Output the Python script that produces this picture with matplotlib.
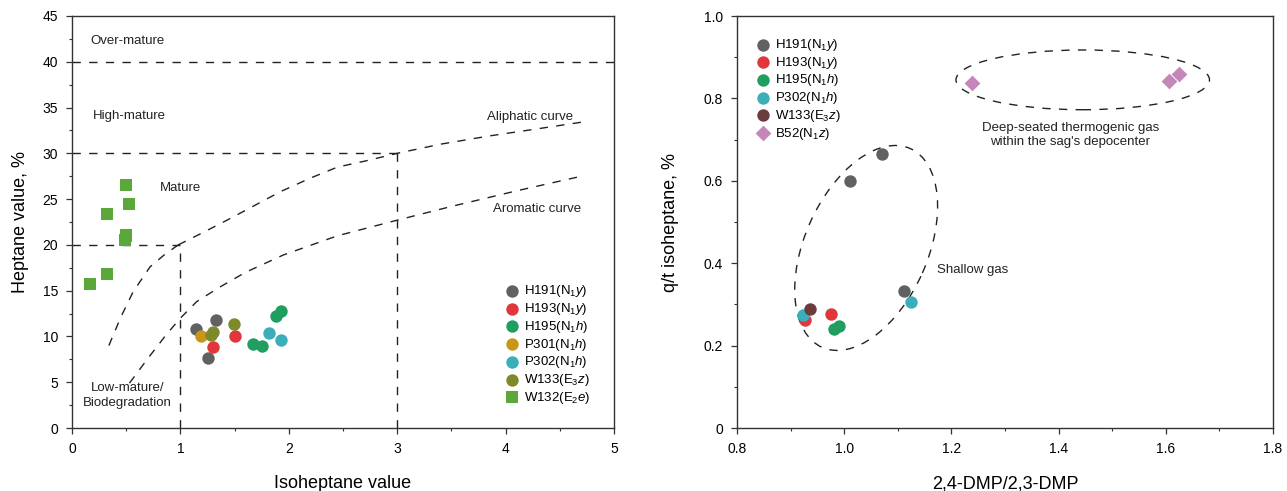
import matplotlib
matplotlib.use("Agg")
import matplotlib.pyplot as plt
from matplotlib.patches import Ellipse
from matplotlib.transforms import Affine2D
from matplotlib.ticker import MultipleLocator

plt.rcParams["font.family"] = ["Liberation Sans", "DejaVu Sans"]
plt.rcParams["mathtext.fontset"] = "custom"
plt.rcParams["mathtext.rm"] = "Liberation Sans"
plt.rcParams["mathtext.it"] = "Liberation Sans:italic"

# ---- left panel: isoheptane vs heptane ----
h191_x = [1.14, 1.33, 1.25]
h191_y = [10.8, 11.8, 7.7]
h193_x = [1.30, 1.50]
h193_y = [8.9, 10.0]
h195_x = [1.67, 1.75, 1.88, 1.93]
h195_y = [9.2, 8.95, 12.2, 12.75]
p301_x = [1.19]
p301_y = [10.0]
p302_x = [1.82, 1.93]
p302_y = [10.35, 9.6]
w133_x = [1.28, 1.30, 1.49]
w133_y = [10.2, 10.5, 11.4]
w132_x = [0.17, 0.32, 0.32, 0.50, 0.53, 0.49, 0.50, 0.50]
w132_y = [15.7, 16.8, 23.4, 26.5, 24.5, 20.5, 21.0, 21.1]

aliph_x = [0.98, 1.2, 1.43, 1.7, 1.92, 2.2, 2.45, 2.72, 3.0, 3.4, 3.85, 4.25, 4.7]
aliph_y = [20.0, 21.3, 22.7, 24.4, 25.8, 27.3, 28.5, 29.2, 30.0, 31.0, 31.9, 32.6, 33.4]
arom_x = [0.53, 0.7, 0.87, 1.0, 1.15, 1.35, 1.6, 1.95, 2.45, 3.0, 3.5, 4.1, 4.7]
arom_y = [4.9, 7.6, 10.2, 12.0, 13.8, 15.3, 17.0, 18.9, 21.0, 22.7, 24.2, 25.9, 27.5]
low_x = [0.34, 0.45, 0.565, 0.72, 0.85, 0.98]
low_y = [9.0, 12.1, 14.9, 17.6, 18.9, 20.0]

# ---- right panel: 2,4-DMP/2,3-DMP vs q/t isoheptane ----
r_h191_x = [1.010, 1.070, 1.111]
r_h191_y = [0.600, 0.665, 0.333]
r_h193_x = [0.926, 0.976]
r_h193_y = [0.263, 0.277]
r_h195_x = [0.981, 0.991]
r_h195_y = [0.240, 0.248]
r_p302_x = [0.923, 1.125]
r_p302_y = [0.274, 0.307]
r_w133_x = [0.937]
r_w133_y = [0.289]
r_b52_x = [1.239, 1.606, 1.624]
r_b52_y = [0.837, 0.842, 0.860]

c_gray = "#616161"
c_red = "#e0363c"
c_green = "#1f9e5f"
c_gold = "#c9961a"
c_teal = "#3aafb9"
c_olive = "#7e892c"
c_sq = "#5ba83a"
c_brown = "#6c3c3c"
c_pink = "#c586ba"
dash_c = "#222222"
dash = (6, 6)

fig = plt.figure(figsize=(12.87, 4.91), dpi=100)
ax1 = fig.add_axes([72 / 1287, 63 / 491, 542 / 1287, 412 / 491])
ax2 = fig.add_axes([737 / 1287, 63 / 491, 536 / 1287, 412 / 491])


def style(ax):
    for s in ax.spines.values():
        s.set_color("#333333")
        s.set_linewidth(1.0)
    ax.tick_params(which="major", direction="out", length=4, width=0.9,
                   color="#333333", labelsize=10, pad=6)
    ax.tick_params(which="minor", direction="out", length=2.5, width=0.8,
                   color="#333333")


def dline(ax, x, y):
    ax.plot(x, y, color=dash_c, lw=1.0, dashes=dash, zorder=1)


# left
dline(ax1, [0, 5], [40, 40])
dline(ax1, [0, 3], [30, 30])
dline(ax1, [3, 3], [0, 30])
dline(ax1, [0, 1], [20, 20])
dline(ax1, [1, 1], [0, 20])
dline(ax1, aliph_x, aliph_y)
dline(ax1, arom_x, arom_y)
dline(ax1, low_x, low_y)

ms = 80
ax1.scatter(h191_x, h191_y, s=ms, color=c_gray, lw=0, label=r"H191(N$_1$$\it{y}$)", zorder=3)
ax1.scatter(h193_x, h193_y, s=ms, color=c_red, lw=0, label=r"H193(N$_1$$\it{y}$)", zorder=3)
ax1.scatter(h195_x, h195_y, s=ms, color=c_green, lw=0, label=r"H195(N$_1$$\it{h}$)", zorder=3)
ax1.scatter(p301_x, p301_y, s=ms, color=c_gold, lw=0, label=r"P301(N$_1$$\it{h}$)", zorder=3)
ax1.scatter(p302_x, p302_y, s=ms, color=c_teal, lw=0, label=r"P302(N$_1$$\it{h}$)", zorder=3)
ax1.scatter(w133_x, w133_y, s=ms, color=c_olive, lw=0, label=r"W133(E$_3$$\it{z}$)", zorder=3)
ax1.scatter(w132_x, w132_y, s=64, marker="s", color=c_sq, lw=0, label=r"W132(E$_2$$\it{e}$)", zorder=3)

ax1.set_xlim(0, 5)
ax1.set_ylim(0, 45)
ax1.xaxis.set_major_locator(MultipleLocator(1))
ax1.xaxis.set_minor_locator(MultipleLocator(0.5))
ax1.yaxis.set_major_locator(MultipleLocator(5))
ax1.yaxis.set_minor_locator(MultipleLocator(2.5))
style(ax1)
ax1.set_xlabel("Isoheptane value", fontsize=13, labelpad=14)
ax1.set_ylabel("Heptane value, %", fontsize=13, labelpad=10)

tk = dict(fontsize=9.5, color="#222222")
ax1.text(0.166, 42.3, "Over-mature", va="center", ha="left", **tk)
ax1.text(0.195, 34.1, "High-mature", va="center", ha="left", **tk)
ax1.text(0.81, 26.2, "Mature", va="center", ha="left", **tk)
ax1.text(4.62, 34.0, "Aliphatic curve", va="center", ha="right", **tk)
ax1.text(4.70, 23.9, "Aromatic curve", va="center", ha="right", **tk)
ax1.text(0.51, 3.55, "Low-mature/\nBiodegradation", va="center", ha="center",
         linespacing=1.35, **tk)

leg_kw = dict(loc="upper left", frameon=False, fontsize=9.5, handletextpad=0.3,
              labelspacing=0.13, borderpad=0, handlelength=1.2, borderaxespad=0)
ax1.legend(bbox_to_anchor=(0.798, 0.351), **leg_kw)

# right
ax2.add_patch(Ellipse((1.445, 0.845), 0.473, 0.145, fill=False, ec=dash_c,
                      lw=1.0, ls=(0, dash), zorder=1))
# tilted ellipse drawn in pixel proportions, then scaled into data units
sh = Affine2D().scale(1.0 / 536, 1.0 / 411).translate(1.041, 0.437) + ax2.transData
ax2.add_patch(Ellipse((0, 0), 217, 123, angle=66, fill=False, ec=dash_c,
                      lw=1.0, ls=(0, dash), transform=sh, zorder=1))

ax2.scatter(r_h191_x, r_h191_y, s=ms, color=c_gray, lw=0, label=r"H191(N$_1$$\it{y}$)", zorder=3)
ax2.scatter(r_h193_x, r_h193_y, s=ms, color=c_red, lw=0, label=r"H193(N$_1$$\it{y}$)", zorder=3)
ax2.scatter(r_h195_x, r_h195_y, s=ms, color=c_green, lw=0, label=r"H195(N$_1$$\it{h}$)", zorder=3)
ax2.scatter(r_p302_x, r_p302_y, s=ms, color=c_teal, lw=0, label=r"P302(N$_1$$\it{h}$)", zorder=3)
ax2.scatter(r_w133_x, r_w133_y, s=ms, color=c_brown, lw=0, label=r"W133(E$_3$$\it{z}$)", zorder=3)
ax2.scatter(r_b52_x, r_b52_y, s=64, marker="D", color=c_pink, lw=0, label=r"B52(N$_1$$\it{z}$)", zorder=3)

ax2.set_xlim(0.8, 1.8)
ax2.set_ylim(0, 1.0)
ax2.xaxis.set_minor_locator(MultipleLocator(0.1))
ax2.yaxis.set_minor_locator(MultipleLocator(0.1))
ax2.set_xticks([0.8, 1.0, 1.2, 1.4, 1.6, 1.8], ["0.8", "1.0", "1.2", "1.4", "1.6", "1.8"])
ax2.set_yticks([0, 0.2, 0.4, 0.6, 0.8, 1.0], ["0", "0.2", "0.4", "0.6", "0.8", "1.0"])
style(ax2)
ax2.set_xlabel("2,4-DMP/2,3-DMP", fontsize=13, labelpad=14)
ax2.set_ylabel("q/t isoheptane, %", fontsize=13, labelpad=18)

ax2.text(1.422, 0.711, "Deep-seated thermogenic gas\nwithin the sag's depocenter",
         va="center", ha="center", linespacing=1.25, **tk)
ax2.text(1.174, 0.384, "Shallow gas", va="center", ha="left", **tk)

ax2.legend(bbox_to_anchor=(0.034, 0.949), **leg_kw)

fig.savefig("out.png", dpi=100)
